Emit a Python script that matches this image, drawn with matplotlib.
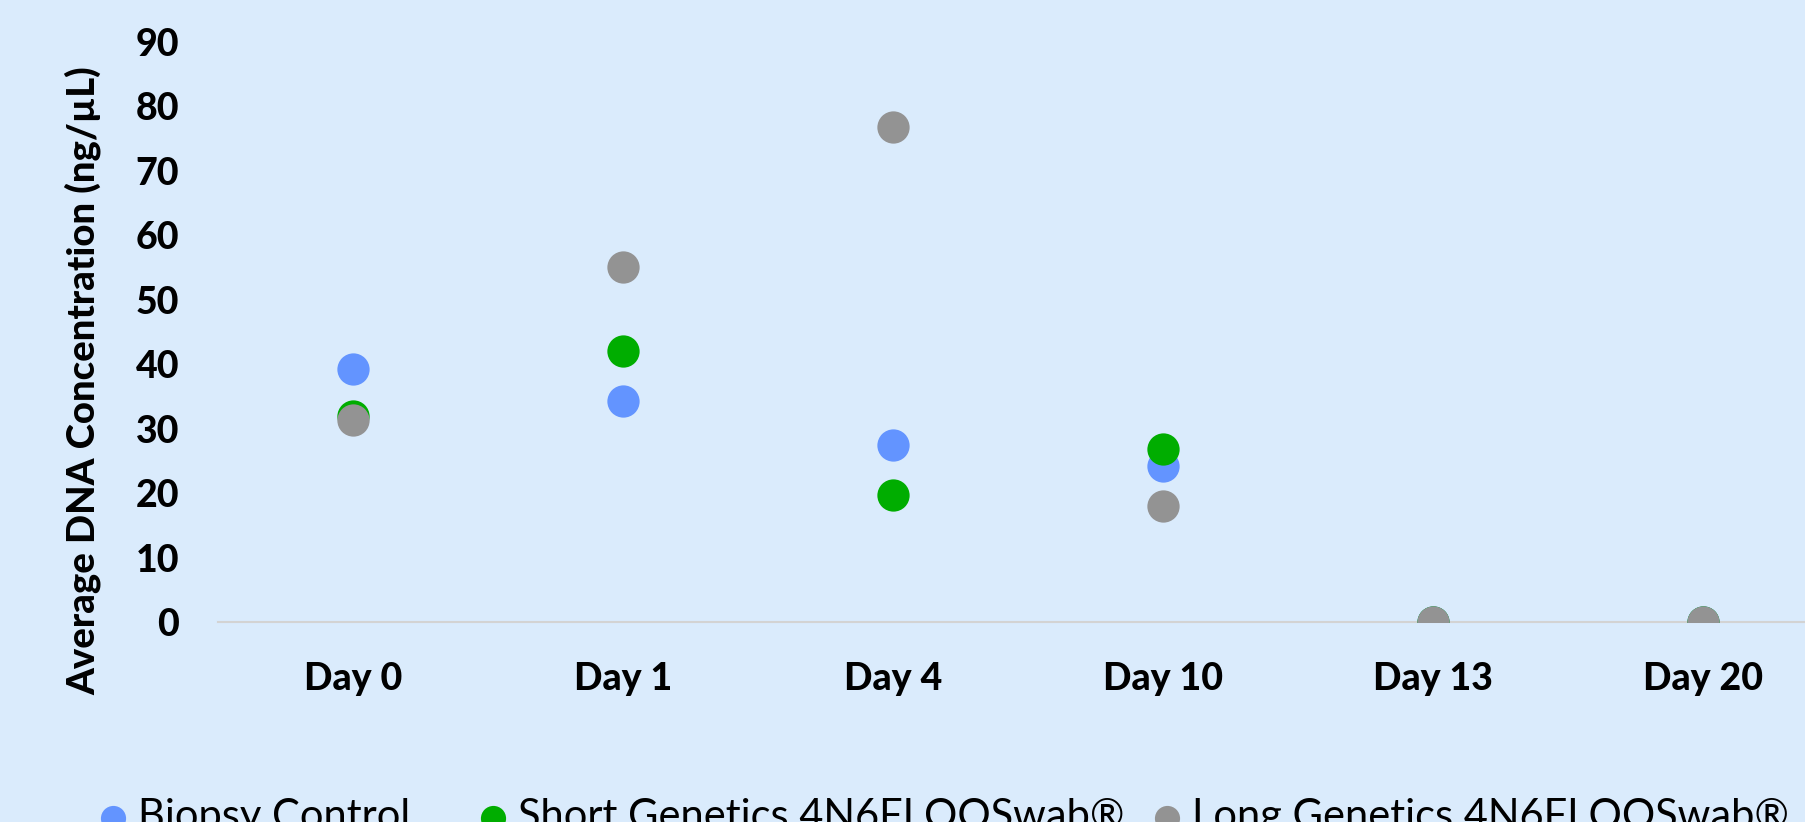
import numpy as np
import matplotlib
matplotlib.use("Agg")
import matplotlib.pyplot as plt

# data
days = ["Day 0", "Day 1", "Day 4", "Day 10", "Day 13", "Day 20"]
biopsy = [39.3, 34.2, 27.5, 24.2, 0, 0]
short_swab = [32.0, 42.0, 19.7, 26.8, 0, 0]
long_swab = [31.3, 55.0, 76.8, 18.0, 0, 0]
series_names = ["Biopsy Control", "Short Genetics 4N6FLOQSwab\u00ae", "Long Genetics 4N6FLOQSwab\u00ae"]
colors = ["#6394FF", "#00AD00", "#939393"]
yticks = [0, 10, 20, 30, 40, 50, 60, 70, 80, 90]

bg = "#DAEBFC"
plt.rcParams['font.family'] = ['Lato', 'DejaVu Sans']

fig = plt.figure(figsize=(18.06, 8.22), dpi=100)
fig.patch.set_facecolor(bg)
# plot area runs past the right edge, like the cropped original
ax = fig.add_axes([0.1207, 0.2433, 0.897, 0.7062])
ax.set_facecolor(bg)

x = np.arange(len(days))
handles = []
for vals, name, c in zip([biopsy, short_swab, long_swab], series_names, colors):
    h = ax.scatter(x, vals, s=540, color=c, label=name, zorder=3, linewidths=0)
    handles.append(h)

ax.set_xlim(-0.5, len(days) - 0.5)
ax.set_ylim(0, 90)
ax.set_yticks(yticks)
ax.set_xticks(x)
ax.set_xticklabels(days)
ax.tick_params(axis='both', length=0, labelsize=27)
ax.tick_params(axis='x', pad=29)
ax.tick_params(axis='y', pad=28)
for lab in ax.get_xticklabels() + ax.get_yticklabels():
    lab.set_fontweight('black')

for side in ['top', 'right', 'left']:
    ax.spines[side].set_visible(False)
ax.spines['bottom'].set_color('#D3D3D3')
ax.spines['bottom'].set_linewidth(1.5)
ax.spines['bottom'].set_zorder(1)

ax.set_ylabel("Average DNA Concentration (ng/\u00b5L)", fontsize=27.5, fontweight='black')
ax.yaxis.set_label_coords(-0.072, 0.415)

# legend sits at the bottom edge and is cut, as in the original;
# one small legend per entry so the uneven gaps can be matched
leg_x = [0.0533, 0.2637, 0.6368]
for h, name, lx in zip(handles, series_names, leg_x):
    fig.legend([h], [name], loc='center left', bbox_to_anchor=(lx, 0.006), frameon=False,
               fontsize=30, handlelength=0.8, handletextpad=0.2, borderpad=0,
               borderaxespad=0, markerscale=0.78)

fig.savefig("out.png", dpi=100, facecolor=bg)
